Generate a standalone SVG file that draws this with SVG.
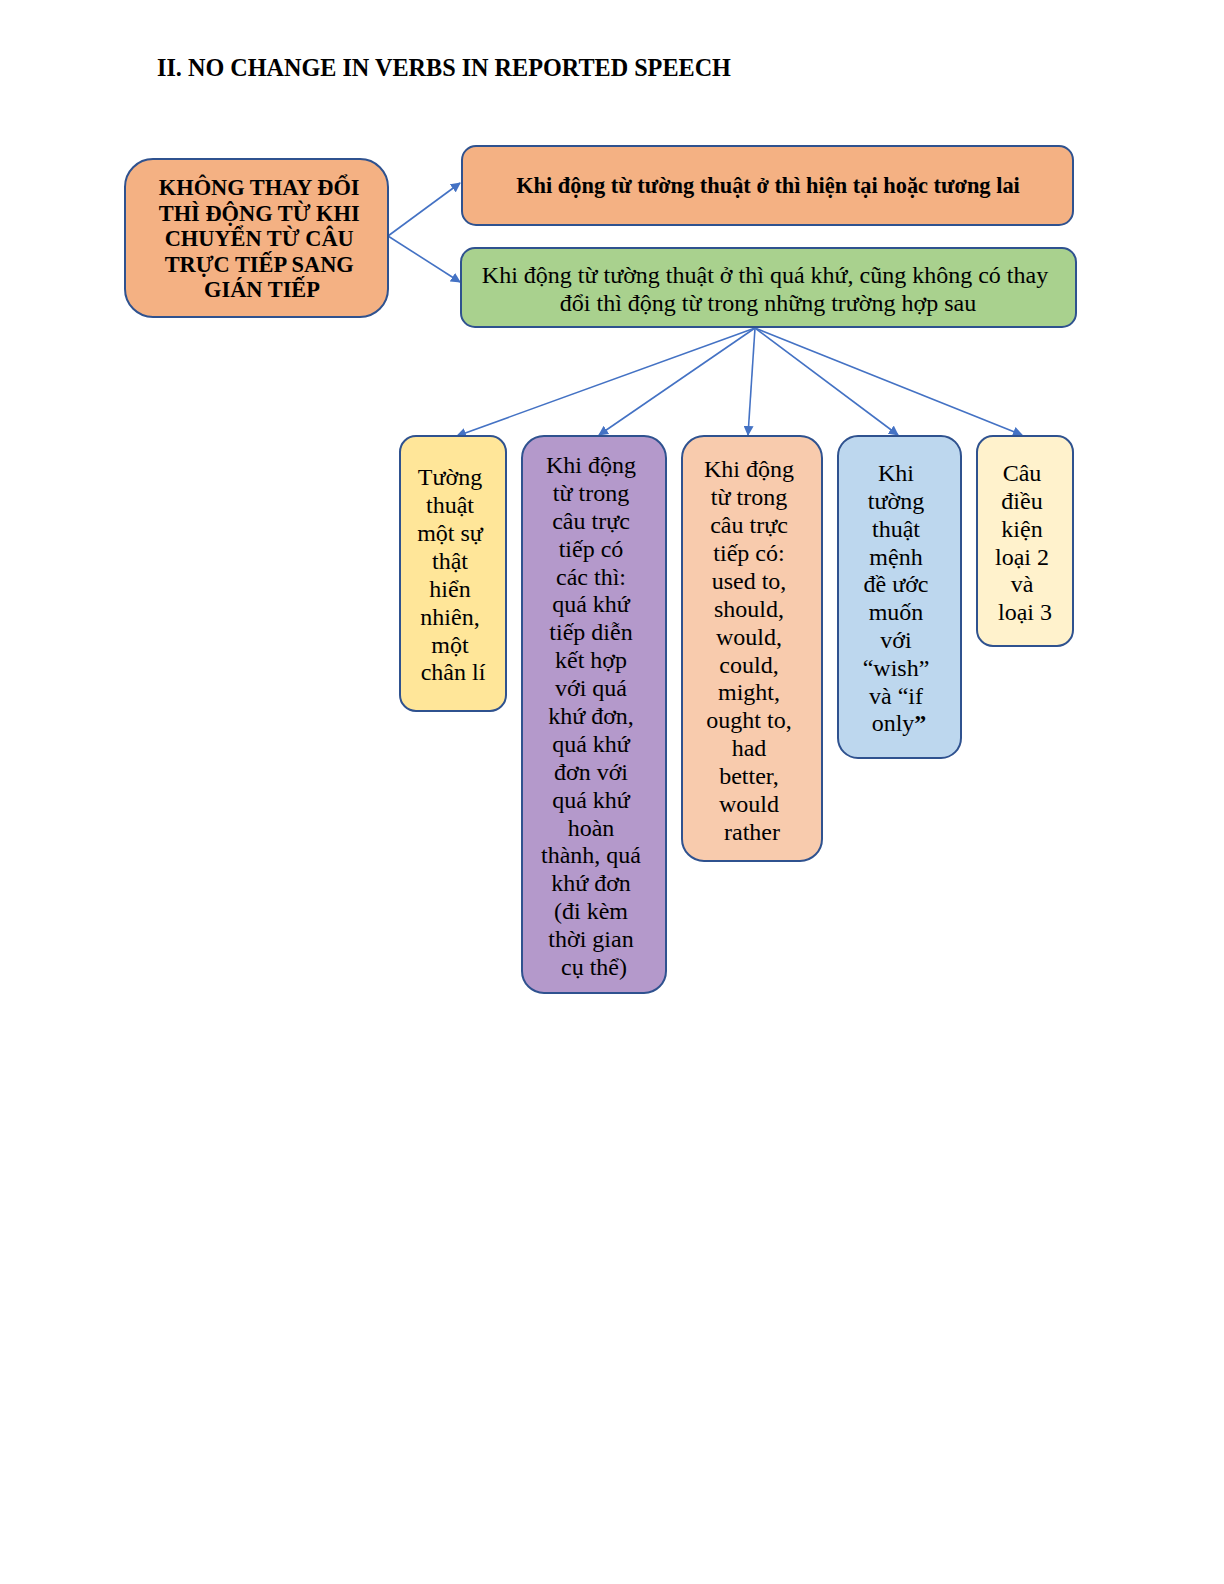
<svg xmlns="http://www.w3.org/2000/svg" width="1224" height="1584" viewBox="0 0 1224 1584">
<defs>
<marker id="ah" markerWidth="10" markerHeight="10" refX="9" refY="5" orient="auto" markerUnits="userSpaceOnUse">
<path d="M0,0 L10,5 L0,10 Z" fill="#4472C4"/>
</marker>
<style>
.box{stroke:#2F528F;stroke-width:2}
.t{font-family:"Liberation Serif","Times New Roman",serif;font-size:24px;fill:#000;text-anchor:middle}
.b{font-weight:bold;font-size:22.4px}
.c{stroke:#4472C4;stroke-width:1.6;fill:none;marker-end:url(#ah)}
</style>
</defs>
<rect width="1224" height="1584" fill="#fff"/>
<text x="157" y="76" font-family="'Liberation Serif','Times New Roman',serif" font-size="24.2" font-weight="bold" fill="#000">II. NO CHANGE IN VERBS IN REPORTED SPEECH</text>

<g id="connectors">
<line class="c" x1="388" y1="236" x2="460" y2="183"/>
<line class="c" x1="388" y1="236" x2="460" y2="282"/>
<line class="c" x1="755" y1="328" x2="457" y2="436"/>
<line class="c" x1="755" y1="328" x2="599" y2="435"/>
<line class="c" x1="755" y1="328" x2="748" y2="435"/>
<line class="c" x1="755" y1="328" x2="898" y2="435"/>
<line class="c" x1="755" y1="328" x2="1022" y2="435"/>
</g>

<g id="main">
<rect class="box" x="125" y="159" width="263" height="158" rx="28" fill="#F4B183"/>
<text class="t b">
<tspan x="262" y="195">KHÔNG THAY ĐỔI</tspan>
<tspan x="262" y="221">THÌ ĐỘNG TỪ KHI</tspan>
<tspan x="262" y="246">CHUYỂN TỪ CÂU</tspan>
<tspan x="262" y="272">TRỰC TIẾP SANG</tspan>
<tspan x="262" y="297">GIÁN TIẾP</tspan>
</text>
</g>

<g id="present">
<rect class="box" x="462" y="146" width="611" height="79" rx="14" fill="#F4B183"/>
<text class="t b" x="768" y="193">Khi động từ tường thuật ở thì hiện tại hoặc tương lai</text>
</g>

<g id="past">
<rect class="box" x="461" y="248" width="615" height="79" rx="14" fill="#A9D18E"/>
<text class="t">
<tspan x="768" y="283">Khi động từ tường thuật ở thì quá khứ, cũng không có thay</tspan>
<tspan x="768" y="311">đổi thì động từ trong những trường hợp sau</tspan>
</text>
</g>

<g id="truth">
<rect class="box" x="400" y="436" width="106" height="275" rx="16" fill="#FFE699"/>
<text class="t">
<tspan x="453" y="485">Tường</tspan>
<tspan x="453" y="513">thuật</tspan>
<tspan x="453" y="541">một sự</tspan>
<tspan x="453" y="569">thật</tspan>
<tspan x="453" y="597">hiển</tspan>
<tspan x="453" y="625">nhiên,</tspan>
<tspan x="453" y="653">một</tspan>
<tspan x="453" y="680">chân lí</tspan>
</text>
</g>

<g id="tenses">
<rect class="box" x="522" y="436" width="144" height="557" rx="22" fill="#B499CB"/>
<text class="t">
<tspan x="594" y="473">Khi động</tspan>
<tspan x="594" y="501">từ trong</tspan>
<tspan x="594" y="529">câu trực</tspan>
<tspan x="594" y="557">tiếp có</tspan>
<tspan x="594" y="585">các thì:</tspan>
<tspan x="594" y="612">quá khứ</tspan>
<tspan x="594" y="640">tiếp diễn</tspan>
<tspan x="594" y="668">kết hợp</tspan>
<tspan x="594" y="696">với quá</tspan>
<tspan x="594" y="724">khứ đơn,</tspan>
<tspan x="594" y="752">quá khứ</tspan>
<tspan x="594" y="780">đơn với</tspan>
<tspan x="594" y="808">quá khứ</tspan>
<tspan x="594" y="836">hoàn</tspan>
<tspan x="594" y="863">thành, quá</tspan>
<tspan x="594" y="891">khứ đơn</tspan>
<tspan x="594" y="919">(đi kèm</tspan>
<tspan x="594" y="947">thời gian</tspan>
<tspan x="594" y="975">cụ thể)</tspan>
</text>
</g>

<g id="modals">
<rect class="box" x="682" y="436" width="140" height="425" rx="22" fill="#F8CBAD"/>
<text class="t">
<tspan x="752" y="477">Khi động</tspan>
<tspan x="752" y="505">từ trong</tspan>
<tspan x="752" y="533">câu trực</tspan>
<tspan x="752" y="561">tiếp có:</tspan>
<tspan x="752" y="589">used to,</tspan>
<tspan x="752" y="617">should,</tspan>
<tspan x="752" y="645">would,</tspan>
<tspan x="752" y="673">could,</tspan>
<tspan x="752" y="700">might,</tspan>
<tspan x="752" y="728">ought to,</tspan>
<tspan x="752" y="756">had</tspan>
<tspan x="752" y="784">better,</tspan>
<tspan x="752" y="812">would</tspan>
<tspan x="752" y="840">rather</tspan>
</text>
</g>

<g id="wish">
<rect class="box" x="838" y="436" width="123" height="322" rx="20" fill="#BDD7EE"/>
<text class="t">
<tspan x="899" y="481">Khi</tspan>
<tspan x="899" y="509">tường</tspan>
<tspan x="899" y="537">thuật</tspan>
<tspan x="899" y="565">mệnh</tspan>
<tspan x="899" y="592">đề ước</tspan>
<tspan x="899" y="620">muốn</tspan>
<tspan x="899" y="648">với</tspan>
<tspan x="899" y="676">“wish”</tspan>
<tspan x="899" y="704">và “if</tspan>
<tspan x="899" y="731">only<tspan font-weight="bold">”</tspan></tspan>
</text>
</g>

<g id="conditional">
<rect class="box" x="977" y="436" width="96" height="210" rx="16" fill="#FFF2CC"/>
<text class="t">
<tspan x="1025" y="481">Câu</tspan>
<tspan x="1025" y="509">điều</tspan>
<tspan x="1025" y="537">kiện</tspan>
<tspan x="1025" y="565">loại 2</tspan>
<tspan x="1025" y="592">và</tspan>
<tspan x="1025" y="620">loại 3</tspan>
</text>
</g>
</svg>
